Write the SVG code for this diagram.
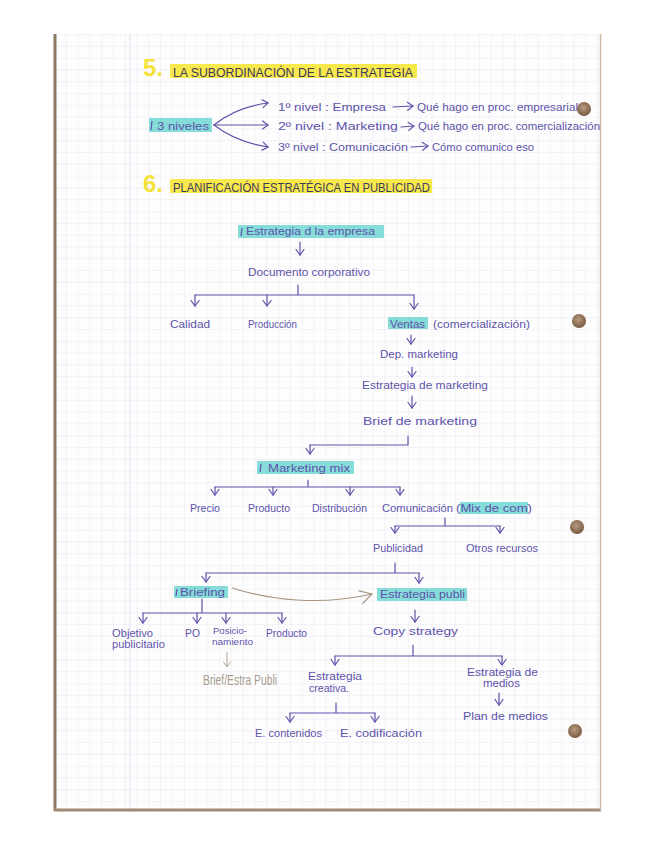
<svg xmlns="http://www.w3.org/2000/svg" width="655" height="848" viewBox="0 0 655 848">
<defs>
<pattern id="grid" x="54" y="34" width="11.8" height="11.8" patternUnits="userSpaceOnUse">
<path d="M0,0 H11.8 M0,0 V11.8" fill="none" stroke="#e7e8ef" stroke-width="1"/>
</pattern>
<radialGradient id="hole" cx="0.45" cy="0.4" r="0.6">
<stop offset="0" stop-color="#b89c80"/>
<stop offset="1" stop-color="#76593e"/>
</radialGradient>
<marker id="v" viewBox="-7 -5 8 10" markerWidth="8" markerHeight="10" refX="0" refY="0" orient="auto" markerUnits="userSpaceOnUse">
<path d="M-5.5,-4 L0,0 L-5.5,4" fill="none" stroke="#5d53aa" stroke-width="1.2" stroke-linecap="round"/>
</marker>
<marker id="vb" viewBox="-14 -8 15 16" markerWidth="15" markerHeight="16" refX="0" refY="0" orient="auto" markerUnits="userSpaceOnUse">
<path d="M-12,-6 L0,0 L-11,7" fill="none" stroke="#a89682" stroke-width="1.2" stroke-linecap="round"/>
</marker>
<marker id="vt" viewBox="-7 -5 8 10" markerWidth="8" markerHeight="10" refX="0" refY="0" orient="auto" markerUnits="userSpaceOnUse">
<path d="M-5,-3.5 L0,0 L-5,3.5" fill="none" stroke="#b3a593" stroke-width="1" stroke-linecap="round"/>
</marker>
</defs>
<style>
.t{font-family:"Liberation Sans","DejaVu Sans",sans-serif;font-size:11.5px;fill:#5d53aa}
.h{font-family:"Liberation Sans","DejaVu Sans",sans-serif;font-size:12.5px;fill:#3d3a5c}
.num{font-family:"Liberation Sans","DejaVu Sans",sans-serif;font-size:24px;font-weight:bold;fill:#f3e23a}
.hy{fill:#f7e84c}
.hc{fill:#86dcd8}
.ln{fill:none;stroke:#5d53aa;stroke-width:1.2;stroke-linecap:round;stroke-linejoin:round}
.ar{fill:none;stroke:#5d53aa;stroke-width:1.2;stroke-linecap:round;marker-end:url(#v)}
.tick{stroke:#5d53aa;stroke-width:1.2}
</style>
<rect width="655" height="848" fill="#ffffff"/>
<g id="paper">
<rect x="54" y="34" width="547" height="776" fill="#fdfdfe"/>
<rect x="54" y="34" width="547" height="776" fill="url(#grid)"/>
<line x1="130" y1="34" x2="130" y2="809" stroke="#dfe1f0" stroke-width="1"/>
<line x1="55" y1="34" x2="55" y2="811" stroke="#8d7862" stroke-width="3"/>
<line x1="54" y1="810" x2="601" y2="810" stroke="#a08a72" stroke-width="3"/>
<line x1="600.5" y1="34" x2="600.5" y2="811" stroke="#c9b9a5" stroke-width="1.5"/>
<circle cx="584" cy="109" r="7" fill="url(#hole)"/>
<circle cx="579" cy="321" r="7" fill="url(#hole)"/>
<circle cx="577" cy="527" r="7" fill="url(#hole)"/>
<circle cx="575" cy="731" r="7" fill="url(#hole)"/>
</g>
<g id="title5">
<text class="num" x="143" y="76">5.</text>
<rect class="hy" x="170" y="64" width="247" height="14"/>
<text class="h" x="173" y="77" textLength="240" lengthAdjust="spacingAndGlyphs">LA SUBORDINACIÓN DE LA ESTRATEGIA</text>
</g>
<g id="niveles">
<rect class="hc" x="149" y="118" width="63" height="14"/>
<line class="tick" x1="152" y1="121" x2="151" y2="130"/>
<text class="t" x="157" y="130" textLength="52" lengthAdjust="spacingAndGlyphs">3 niveles</text>
</g>
<g id="nivel1">
<text class="t" x="278" y="111" textLength="108" lengthAdjust="spacingAndGlyphs">1º nivel : Empresa</text>
<text class="t" x="417" y="111" textLength="161" lengthAdjust="spacingAndGlyphs">Qué hago en proc. empresarial</text>
</g>
<g id="nivel2">
<text class="t" x="278" y="130" textLength="120" lengthAdjust="spacingAndGlyphs">2º nivel : Marketing</text>
<text class="t" x="418" y="130" textLength="182" lengthAdjust="spacingAndGlyphs">Qué hago en proc. comercialización</text>
</g>
<g id="nivel3">
<text class="t" x="278" y="151" textLength="130" lengthAdjust="spacingAndGlyphs">3º nivel : Comunicación</text>
<text class="t" x="432" y="151" textLength="102" lengthAdjust="spacingAndGlyphs">Cómo comunico eso</text>
</g>
<g id="title6">
<text class="num" x="143" y="192">6.</text>
<rect class="hy" x="170" y="179" width="262" height="14"/>
<text class="h" x="173" y="192" textLength="257" lengthAdjust="spacingAndGlyphs">PLANIFICACIÓN ESTRATÉGICA EN PUBLICIDAD</text>
</g>
<g id="estrategia-empresa">
<rect class="hc" x="238" y="225" width="146" height="13"/>
<line class="tick" x1="242" y1="228" x2="241" y2="236"/>
<text class="t" x="246" y="235" textLength="129" lengthAdjust="spacingAndGlyphs">Estrategia d la empresa</text>
</g>
<g id="documento">
<text class="t" x="248" y="276" textLength="122" lengthAdjust="spacingAndGlyphs">Documento corporativo</text>
</g>
<g id="calidad"><text class="t" x="170" y="328" textLength="40" lengthAdjust="spacingAndGlyphs">Calidad</text></g>
<g id="produccion"><text class="t" x="248" y="328" textLength="49" lengthAdjust="spacingAndGlyphs">Producción</text></g>
<g id="ventas">
<rect class="hc" x="388" y="317" width="40" height="12"/>
<text class="t" x="390" y="328" textLength="35" lengthAdjust="spacingAndGlyphs">Ventas</text>
<text class="t" x="433" y="328" textLength="97" lengthAdjust="spacingAndGlyphs">(comercialización)</text>
</g>
<g id="dep-marketing"><text class="t" x="380" y="358" textLength="78" lengthAdjust="spacingAndGlyphs">Dep. marketing</text></g>
<g id="estrategia-marketing"><text class="t" x="362" y="389" textLength="126" lengthAdjust="spacingAndGlyphs">Estrategia de marketing</text></g>
<g id="brief-marketing"><text class="t" x="363" y="425" textLength="114" lengthAdjust="spacingAndGlyphs">Brief de marketing</text></g>
<g id="marketing-mix">
<rect class="hc" x="257" y="461" width="97" height="13"/>
<line class="tick" x1="261" y1="464" x2="260" y2="472"/>
<text class="t" x="268" y="472" textLength="82" lengthAdjust="spacingAndGlyphs">Marketing mix</text>
</g>
<g id="precio"><text class="t" x="190" y="512" textLength="30" lengthAdjust="spacingAndGlyphs">Precio</text></g>
<g id="producto1"><text class="t" x="248" y="512" textLength="42" lengthAdjust="spacingAndGlyphs">Producto</text></g>
<g id="distribucion"><text class="t" x="312" y="512" textLength="55" lengthAdjust="spacingAndGlyphs">Distribución</text></g>
<g id="comunicacion">
<rect class="hc" x="460" y="502" width="68" height="12"/>
<text class="t" x="382" y="512" textLength="71" lengthAdjust="spacingAndGlyphs">Comunicación</text>
<text class="t" x="456" y="512" textLength="76" lengthAdjust="spacingAndGlyphs">(Mix de com)</text>
</g>
<g id="publicidad"><text class="t" x="373" y="552" textLength="50" lengthAdjust="spacingAndGlyphs">Publicidad</text></g>
<g id="otros"><text class="t" x="466" y="552" textLength="72" lengthAdjust="spacingAndGlyphs">Otros recursos</text></g>
<g id="briefing">
<rect class="hc" x="174" y="586" width="54" height="12"/>
<line class="tick" x1="177" y1="589" x2="176" y2="596"/>
<text class="t" x="180" y="596" textLength="45" lengthAdjust="spacingAndGlyphs">Briefing</text>
</g>
<g id="estrategia-publi">
<rect class="hc" x="377" y="588" width="90" height="13"/>
<text class="t" x="380" y="598" textLength="85" lengthAdjust="spacingAndGlyphs">Estrategia publi</text>
</g>
<g id="objetivo">
<text class="t" x="112" y="637" textLength="41" lengthAdjust="spacingAndGlyphs">Objetivo</text>
<text class="t" x="112" y="648" textLength="53" lengthAdjust="spacingAndGlyphs">publicitario</text>
</g>
<g id="po"><text class="t" x="185" y="637" textLength="15" lengthAdjust="spacingAndGlyphs">PO</text></g>
<g id="posicionamiento">
<text class="t" x="213" y="634" textLength="34" lengthAdjust="spacingAndGlyphs" style="font-size:9.5px">Posicio-</text>
<text class="t" x="212" y="645" textLength="41" lengthAdjust="spacingAndGlyphs" style="font-size:9.5px">namiento</text>
</g>
<g id="producto2"><text class="t" x="266" y="637" textLength="41" lengthAdjust="spacingAndGlyphs">Producto</text></g>
<g id="brief-estra">
<text x="203" y="685" textLength="74" lengthAdjust="spacingAndGlyphs" style="font-family:'Liberation Sans Narrow','Liberation Sans',sans-serif;font-size:15px;fill:#a89c8e">Brief/Estra Publi</text>
</g>
<g id="copy-strategy"><text class="t" x="373" y="635" textLength="85" lengthAdjust="spacingAndGlyphs">Copy  strategy</text></g>
<g id="estrategia-creativa">
<text class="t" x="308" y="680" textLength="54" lengthAdjust="spacingAndGlyphs">Estrategia</text>
<text class="t" x="309" y="692" textLength="40" lengthAdjust="spacingAndGlyphs">creativa.</text>
</g>
<g id="estrategia-medios">
<text class="t" x="467" y="676" textLength="71" lengthAdjust="spacingAndGlyphs">Estrategia de</text>
<text class="t" x="483" y="687" textLength="37" lengthAdjust="spacingAndGlyphs">medios</text>
</g>
<g id="plan-medios"><text class="t" x="463" y="720" textLength="85" lengthAdjust="spacingAndGlyphs">Plan de medios</text></g>
<g id="e-contenidos"><text class="t" x="255" y="737" textLength="67" lengthAdjust="spacingAndGlyphs">E. contenidos</text></g>
<g id="e-codificacion"><text class="t" x="340" y="737" textLength="82" lengthAdjust="spacingAndGlyphs">E. codificación</text></g>
<g id="connectors">
<path class="ar" d="M214,125 Q236,107 268,103"/>
<path class="ar" d="M214,125 L268,125"/>
<path class="ar" d="M214,125 Q236,142 268,147"/>
<path class="ar" d="M393,107 L413,106"/>
<path class="ar" d="M401,127 L414,126"/>
<path class="ar" d="M411,147 L428,146"/>
<path class="ar" d="M300,242 L300,255"/>
<path class="ln" d="M298,285 L298,295 M195,295 L414,295"/>
<path class="ar" d="M195,295 L195,306"/>
<path class="ar" d="M267,295 L267,306"/>
<path class="ar" d="M414,295 L414,309"/>
<path class="ar" d="M411,335 L411,344"/>
<path class="ar" d="M412,367 L412,377"/>
<path class="ar" d="M412,396 L412,408"/>
<path class="ln" d="M408,436 L408,445 L310,445"/>
<path class="ar" d="M310,445 L310,454"/>
<path class="ln" d="M308,480 L308,487 M215,487 L400,487"/>
<path class="ar" d="M215,487 L215,495"/>
<path class="ar" d="M273,487 L273,495"/>
<path class="ar" d="M350,487 L350,495"/>
<path class="ar" d="M400,487 L400,495"/>
<path class="ln" d="M445,518 L445,526 M395,526 L500,526"/>
<path class="ar" d="M395,526 L395,533"/>
<path class="ar" d="M500,526 L500,533"/>
<path class="ln" d="M395,563 L395,573 M206,573 L419,573"/>
<path class="ar" d="M206,573 L206,582"/>
<path class="ar" d="M419,573 L419,583"/>
<path d="M232,588 C270,600 320,606 372,594" fill="none" stroke="#a89682" stroke-width="1.1" marker-end="url(#vb)"/>
<path class="ln" d="M202,599 L202,613 M143,613 L282,613"/>
<path class="ar" d="M143,613 L143,623"/>
<path class="ar" d="M197,613 L197,623"/>
<path class="ar" d="M226,613 L226,623"/>
<path class="ar" d="M282,613 L282,623"/>
<path d="M227,652 L227,667" fill="none" stroke="#b3a593" stroke-width="1" marker-end="url(#vt)"/>
<path class="ar" d="M415,610 L415,622"/>
<path class="ln" d="M413,645 L413,656 M335,656 L502,656"/>
<path class="ar" d="M335,656 L335,665"/>
<path class="ar" d="M502,656 L502,665"/>
<path class="ar" d="M499,693 L499,705"/>
<path class="ln" d="M336,703 L336,713 M290,713 L375,713"/>
<path class="ar" d="M290,713 L290,722"/>
<path class="ar" d="M375,713 L375,722"/>
</g>
</svg>
